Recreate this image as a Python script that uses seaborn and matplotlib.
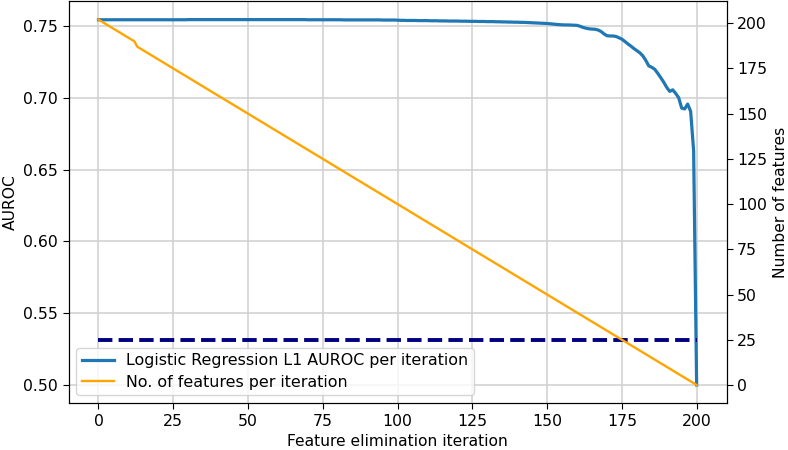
import matplotlib
matplotlib.use("Agg")
import matplotlib.pyplot as plt
import seaborn as sns

# --- Data ---

# Feature elimination iterations (0..200)
iterations = list(range(201))

# AUROC of Logistic Regression L1 per iteration
auroc = [
    0.7543, 0.7543, 0.7543, 0.7543, 0.7543, 0.7543, 0.7543, 0.7543, 0.7543, 0.7543,
    0.7543, 0.7543, 0.7543, 0.7543, 0.7543, 0.7543, 0.7543, 0.7543, 0.7543, 0.7543,
    0.7543, 0.7543, 0.7543, 0.7543, 0.7543, 0.7543, 0.7543, 0.7543, 0.7543, 0.7543,
    0.7544, 0.7544, 0.7544, 0.7544, 0.7544, 0.7544, 0.7544, 0.7544, 0.7544, 0.7544,
    0.7544, 0.7544, 0.7544, 0.7544, 0.7544, 0.7544, 0.7544, 0.7544, 0.7544, 0.7544,
    0.7544, 0.7544, 0.7544, 0.7544, 0.7544, 0.7544, 0.7544, 0.7544, 0.7544, 0.7544,
    0.7544, 0.7544, 0.7544, 0.7544, 0.7544, 0.7544, 0.7544, 0.7544, 0.7544, 0.7544,
    0.7543, 0.7543, 0.7543, 0.7543, 0.7543, 0.7543, 0.7543, 0.7543, 0.7543, 0.7543,
    0.7543, 0.7543, 0.7542, 0.7542, 0.7542, 0.7542, 0.7542, 0.7542, 0.7542, 0.7542,
    0.7542, 0.7542, 0.7542, 0.7542, 0.7542, 0.7541, 0.7541, 0.7541, 0.7541, 0.7541,
    0.7540, 0.7539, 0.7539, 0.7538, 0.7538, 0.7538, 0.7538, 0.7537, 0.7537, 0.7537,
    0.7537, 0.7536, 0.7536, 0.7536, 0.7535, 0.7535, 0.7535, 0.7534, 0.7534, 0.7534,
    0.7534, 0.7533, 0.7533, 0.7533, 0.7532, 0.7532, 0.7532, 0.7531, 0.7531, 0.7531,
    0.7530, 0.7530, 0.7530, 0.7529, 0.7529, 0.7528, 0.7528, 0.7527, 0.7527, 0.7526,
    0.7526, 0.7525, 0.7525, 0.7524, 0.7523, 0.7522, 0.7521, 0.7520, 0.7519, 0.7518,
    0.7517, 0.7515, 0.7513, 0.7511, 0.7509, 0.7508, 0.7507, 0.7507, 0.7506, 0.7505,
    0.7504, 0.7498, 0.7490, 0.7484, 0.7480, 0.7478, 0.7477, 0.7472, 0.7462, 0.7445,
    0.7432, 0.7430, 0.7430, 0.7427, 0.7418, 0.7408, 0.7392, 0.7375, 0.7360, 0.7343,
    0.7328, 0.7313, 0.7292, 0.7260, 0.7222, 0.7212, 0.7198, 0.7170, 0.7140, 0.7108,
    0.7072, 0.7044, 0.7055, 0.7030, 0.7000, 0.6928, 0.6922, 0.6956, 0.6905, 0.6630,
    0.5000,
]

# Number of features: straight decline with one extra step near iteration 12
feature_iters = [0, 12, 13, 200]
n_features = [202, 190, 187, 0]

# Horizontal reference (dashed) line
baseline_iters = [0, 200]
baseline_auroc = [0.5313, 0.5313]

AUROC_LABEL = "Logistic Regression L1 AUROC per iteration"
FEATURES_LABEL = "No. of features per iteration"

TICK_SIZE = 11.3
LABEL_SIZE = 11.2
LEGEND_SIZE = 11.4


def main():
    plt.rcParams["xtick.major.size"] = 4
    plt.rcParams["ytick.major.size"] = 4
    fig, ax1 = plt.subplots(figsize=(7.88, 4.5), dpi=100)

    sns.lineplot(x=iterations, y=auroc, ax=ax1, color="#1f77b4",
                 linewidth=2.3, label=AUROC_LABEL, legend=False)
    sns.lineplot(x=baseline_iters, y=baseline_auroc, ax=ax1, color="navy",
                 linewidth=2.8, linestyle="--", legend=False)
    ax1.set_xlabel("Feature elimination iteration", fontsize=LABEL_SIZE)
    ax1.set_ylabel("AUROC", fontsize=LABEL_SIZE)
    ax1.tick_params(labelsize=TICK_SIZE)
    ax1.grid(True, color="#d0d0d0", linewidth=1.1)
    ax1.set_axisbelow(True)

    ax2 = ax1.twinx()
    sns.lineplot(x=feature_iters, y=n_features, ax=ax2, color="orange",
                 linewidth=1.7, label=FEATURES_LABEL, legend=False)
    ax2.set_ylabel("Number of features", fontsize=LABEL_SIZE)
    ax2.set_yticks([0, 25, 50, 75, 100, 125, 150, 175, 200])
    ax2.tick_params(labelsize=TICK_SIZE)

    h1, l1 = ax1.get_legend_handles_labels()
    h2, l2 = ax2.get_legend_handles_labels()
    ax2.legend(h1 + h2, l1 + l2, loc="lower left", fontsize=LEGEND_SIZE,
               labelspacing=0.4, borderpad=0.35)

    plt.subplots_adjust(left=0.087, right=0.922, top=0.997, bottom=0.104)
    plt.savefig("out.png", dpi=100)
    plt.close()


if __name__ == "__main__":
    main()
